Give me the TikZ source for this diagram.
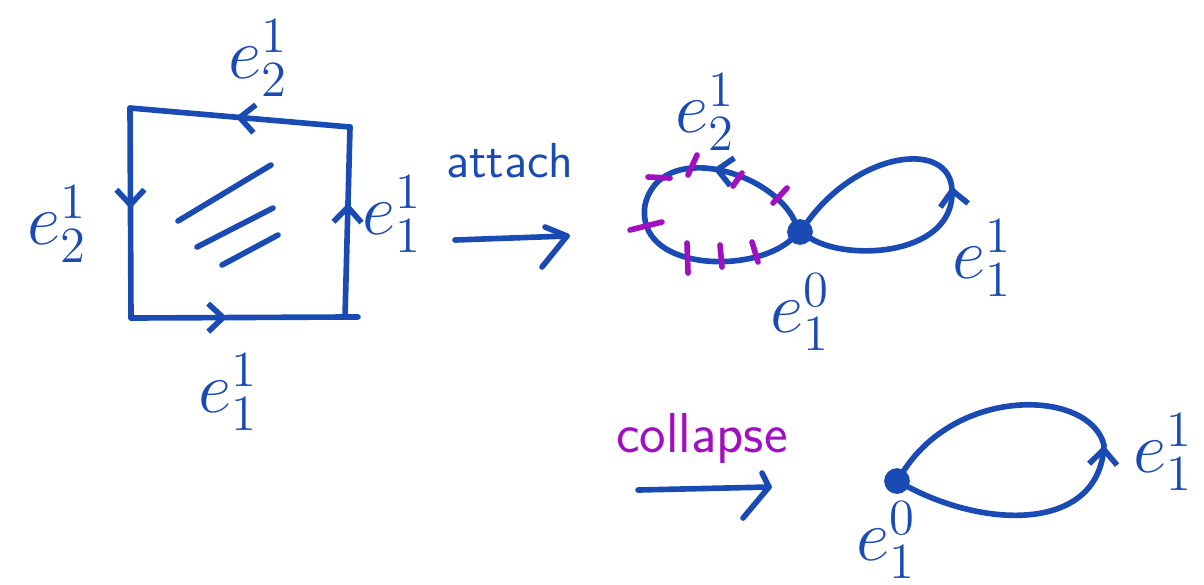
\documentclass[tikz,border=0pt]{standalone}
\usetikzlibrary{arrows.meta,decorations.markings}
\definecolor{bleu}{RGB}{26,74,180}
\definecolor{pourpre}{RGB}{160,16,192}
\begin{document}
\begin{tikzpicture}[x=0.01cm,y=-0.01cm]
	% Styles
	\tikzstyle{trait}=[bleu,line width=1.6pt,line cap=round,line join=round]
	\tikzstyle{fleche}=[trait,postaction={decorate}]
	\tikzstyle{sommet}=[circle,fill=bleu,draw=bleu,line width=1.6pt,inner sep=0pt,minimum size=0.2cm]
	\tikzstyle{etiquette}=[text=bleu,font=\fontsize{20}{24}\selectfont]
	\tikzstyle{commentaire}=[anchor=base,font=\sffamily\fontsize{16}{19}\selectfont]
	\tikzstyle{coche}=[pourpre,line width=1.6pt,line cap=round]
	\tikzset{milieu/.style={decoration={markings,mark=at position #1 with {\arrow{Straight Barb[length=1.5mm,width=2.8mm]}}}}}
	\useasboundingbox (0,0) rectangle (1204,584);
	% Carre
	\coordinate (A) at (130,108);
	\coordinate (B) at (131,318);
	\coordinate (C) at (345,317);
	\coordinate (D) at (350,127);
	\draw[fleche,milieu=0.48] (A) -- (B);
	\draw[fleche,milieu=0.45,shorten >=-0.13cm] (B) -- (C);
	\draw[fleche,milieu=0.6] (C) -- (D);
	\draw[fleche,milieu=0.52] (D) -- (A);
	\draw[trait] (178,221) -- (271,165);
	\draw[trait] (197,247) -- (273,208);
	\draw[trait] (222,265) -- (278,235);
	\node[etiquette] (eHaut) at (258,58) {$e^1_2$};
	\node[etiquette] (eGauche) at (57,224) {$e^1_2$};
	\node[etiquette] (eDroite) at (392,214) {$e^1_1$};
	\node[etiquette] (eBas) at (228,392) {$e^1_1$};
	% attach
	\node[commentaire,text=bleu,font=\sffamily\fontsize{14}{17}\selectfont] (attacher) at (510,177) {attach};
	\coordinate (attA) at (455,240);
	\coordinate (attB) at (567,236);
	\draw[trait] (attA) -- (attB);
	\draw[trait] (attB) ++(-22,-9) -- (attB) -- ++(-25,31);
	% Bouquet de deux cercles
	\node[sommet] (S) at (800,232) {};
	\draw[fleche,milieu=0.27] (S) .. controls (770,170) and (660,140) .. (645,205) .. controls (635,270) and (750,275) .. (S);
	\draw[fleche,milieu=0.5] (S) .. controls (850,262) and (955,255) .. (952,190) .. controls (950,140) and (860,150) .. (S);
	\foreach \xa/\ya/\xb/\yb in {648/177/670/178, 688/175/697/155, 733/186/742/173, 773/203/787/188,
		630/230/662/222, 687/243/688/273, 720/245/722/267, 752/242/758/262}
		\draw[coche] (\xa,\ya) -- (\xb,\yb);
	\node[etiquette] (eDeux) at (705,112) {$e^1_2$};
	\node[etiquette] (eSommet) at (800,312) {$e^0_1$};
	\node[etiquette] (eUn) at (982,258) {$e^1_1$};
	% collapse
	\node[commentaire,text=pourpre] (effondrer) at (702,452) {collapse};
	\coordinate (colA) at (638,490);
	\coordinate (colB) at (769,487);
	\draw[trait] (colA) -- (colB);
	\draw[trait] (colB) ++(-7,-14) -- (colB) -- ++(-26,31);
	% Cercle
	\node[sommet] (T) at (897,481) {};
	\draw[fleche,milieu=0.5] (T) .. controls (990,530) and (1100,530) .. (1104,445) .. controls (1090,390) and (960,385) .. (T);
	\node[etiquette] (eSommetBis) at (886,540) {$e^0_1$};
	\node[etiquette] (eUnBis) at (1163,452) {$e^1_1$};
\end{tikzpicture}
\end{document}
